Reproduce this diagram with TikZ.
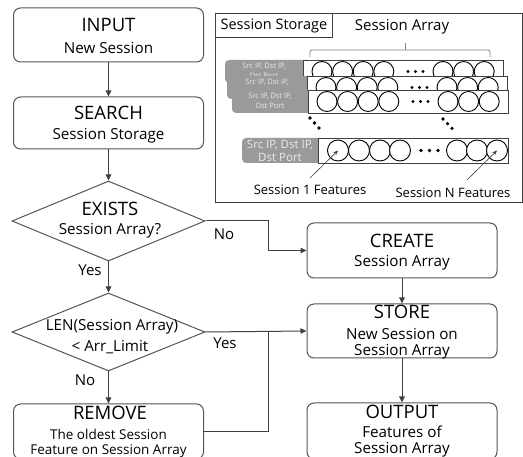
\documentclass[tikz,border=0pt]{standalone}
\usepackage{fontspec}
\setmainfont{Open Sans}
\usetikzlibrary{arrows.meta,shapes.geometric}

\definecolor{linegray}{HTML}{404040}
\definecolor{boxgray}{HTML}{555555}
\definecolor{labelgray}{HTML}{9A9A9A}
\definecolor{labeltext}{HTML}{EAEAEA}

\tikzset{
  flowbox/.style={draw=boxgray, line width=1pt, rounded corners=7pt, fill=white,
    minimum width=190pt, inner sep=0pt},
  decision/.style={draw=boxgray, line width=1pt, diamond, inner sep=0pt,
    minimum width=193pt},
  ttl/.style={font=\fontsize{18.5}{20}\selectfont, inner sep=0pt},
  sub/.style={font=\fontsize{15.2}{17}\selectfont, inner sep=0pt},
  small/.style={font=\fontsize{13.5}{15}\selectfont, inner sep=0pt},
  flow/.style={draw=linegray, line width=1pt, -{Triangle[length=6pt,width=5.5pt]}},
  plainflow/.style={draw=linegray, line width=1pt},
  lbl/.style={font=\fontsize{15}{17}\selectfont, inner sep=0pt},
  bar/.style={draw=linegray, line width=0.9pt, fill=white},
  cell/.style={draw=black, line width=0.9pt, fill=white},
  pointer/.style={draw=linegray, line width=0.6pt, -{Stealth[length=5pt,width=4pt]}},
  rowtext/.style={text=labeltext, align=center, inner sep=0pt},
}

% one session array row: label left, bar left, top, height, cell radius, row id, label text
\newcommand\sessrow[7]{%
  \fill[labelgray, rounded corners=4pt] (#1,#3) rectangle ({#2+8},{#3+#4});
  \node[rowtext, anchor=north, font=\fontsize{7.5}{10}\selectfont] (lab#6)
    at ({(#1+#2)/2},{#3+3}) {#7};
  \draw[bar] (#2,#3) rectangle ({#2+200},{#3+#4});
  \foreach \k in {0,1,2,3} {
    \draw[cell] ({#2+19+20.6*\k},{#3+#4/2}) circle (#5);
  }
  \foreach \k in {0,1,2} {
    \fill[black] ({#2+105+7.5*\k},{#3+#4/2}) circle (1.7pt);
  }
  \foreach \k in {0,1,2} {
    \draw[cell] ({#2+140+20.6*\k},{#3+#4/2}) circle (#5);
  }
}

\begin{document}
\begin{tikzpicture}[x=1pt, y=-1pt]
\useasboundingbox (0,0) rectangle (523,457);

% ---------------- session storage panel ----------------
\draw[draw=linegray, line width=0.9pt] (215,13) rectangle (522,202);
\node[draw=linegray, line width=0.9pt, minimum width=117pt, minimum height=24pt,
  anchor=north west, inner sep=0pt, font=\fontsize{14.5}{16}\selectfont] (storage) at (215,13) {Session Storage};
\node[font=\fontsize{15}{16}\selectfont, inner sep=0pt] (arrtitle) at (402,27) {Session Array};
\draw[draw=gray, line width=0.8pt, rounded corners=2pt] (310,57) -- (310,50) -- (490,50) -- (490,57);
\draw[draw=gray, line width=0.8pt] (405,50) -- (405,43);

\sessrow{225}{303}{60}{23}{10pt}{a}{Src IP, Dst IP,\\Dst Port}
\sessrow{227}{307}{76}{23}{10pt}{b}{Src IP, Dst IP,}
\sessrow{232}{308}{90}{23}{10pt}{c}{Src IP, Dst IP,\\Dst Port}

% vertical ellipses between the rows
\foreach \i in {0,1,2} {
  \fill ({310+4.5*\i},{118+5*\i}) circle (1.8pt);
  \fill ({443+4.5*\i},{119+4.7*\i}) circle (1.8pt);
}

% last row, larger
\fill[labelgray, rounded corners=4pt] (242,138) rectangle (326,163);
\node[rowtext, font=\fontsize{11.5}{13}\selectfont] (labd)
  at (280,150.5) {Src IP, Dst IP,\\Dst Port};
\draw[bar] (318,138) rectangle (508,163);
\foreach \xx/\nm in {338/c1,359/c2,380/c3,400/c4,457/c5,477/c6,497/cN} {
  \draw[cell] (\xx,150.5) circle (10.5pt);
  \coordinate (\nm) at (\xx,150.5);
}
\foreach \k in {0,1,2} {
  \fill[black] ({421+8.5*\k},150.5) circle (1.8pt);
}
\node[font=\fontsize{13}{15}\selectfont, inner sep=0pt] (s1) at (310,190) {Session 1 Features};
\node[font=\fontsize{13}{15}\selectfont, inner sep=0pt] (sN) at (453,193) {Session N Features};
\draw[pointer] (310,178) -- (c1);
\draw[pointer] (467,180) -- (cN);

% ---------------- flowchart ----------------
\node[flowbox, minimum height=54pt] (input) at (108.5,35) {};
\node[ttl] at (108.5,25) {INPUT};
\node[sub] at (108.5,47.5) {New Session};

\node[flowbox, minimum height=52pt] (search) at (108.5,123) {};
\node[ttl] at (108.5,113) {SEARCH};
\node[sub] at (108.5,135.5) {Session Storage};

\node[decision, minimum height=80pt] (exists) at (108.5,221) {};
\node[ttl] at (110,209) {EXISTS};
\node[sub] at (110,231) {Session Array?};

\node[decision, minimum height=78pt] (len) at (108.5,332) {};
\node[sub] at (112,327) {LEN(Session Array)};
\node[sub] at (110,347) {< Arr\_Limit};

\node[flowbox, minimum height=55pt] (remove) at (108.5,431.5) {};
\node[ttl] at (110,413) {REMOVE};
\node[small] at (108.5,434) {The oldest Session};
\node[small] at (108.5,451) {Feature on Session Array};

\node[flowbox, minimum height=55pt] (create) at (402,250.5) {};
\node[ttl] at (402,241) {CREATE};
\node[sub] at (402,263) {Session Array};

\node[flowbox, minimum height=54pt] (store) at (402,331) {};
\node[ttl] at (402,312) {STORE};
\node[sub] at (402,334) {New Session on};
\node[sub] at (402,352) {Session Array};

\node[flowbox, minimum height=56pt] (output) at (402,431) {};
\node[ttl] at (402,412) {OUTPUT};
\node[sub] at (402,432) {Features of};
\node[sub] at (402,450) {Session Array};

% connectors
\draw[flow] (input.south) -- (search.north);
\draw[flow] (search.south) -- (exists.north);
\draw[flow] (exists.south) -- (len.north);
\draw[flow] (len.south) -- (remove.north);
\coordinate (jn) at (268,250.5);
\draw[flow] (exists.east) -| (jn) -- (create.west);
\draw[flow] (len.east) -- (store.west);
\coordinate (jm) at (268,332);
\draw[plainflow] (remove.east) -| (jm);
\draw[flow] (create.south) -- (store.north);
\draw[flow] (store.south) -- (output.north);

\node[lbl] (yes1) at (90,270) {Yes};
\node[lbl] (no1) at (224,234) {No};
\node[lbl] (no2) at (85,380) {No};
\node[lbl] (yes2) at (225,343) {Yes};
\end{tikzpicture}
\end{document}
